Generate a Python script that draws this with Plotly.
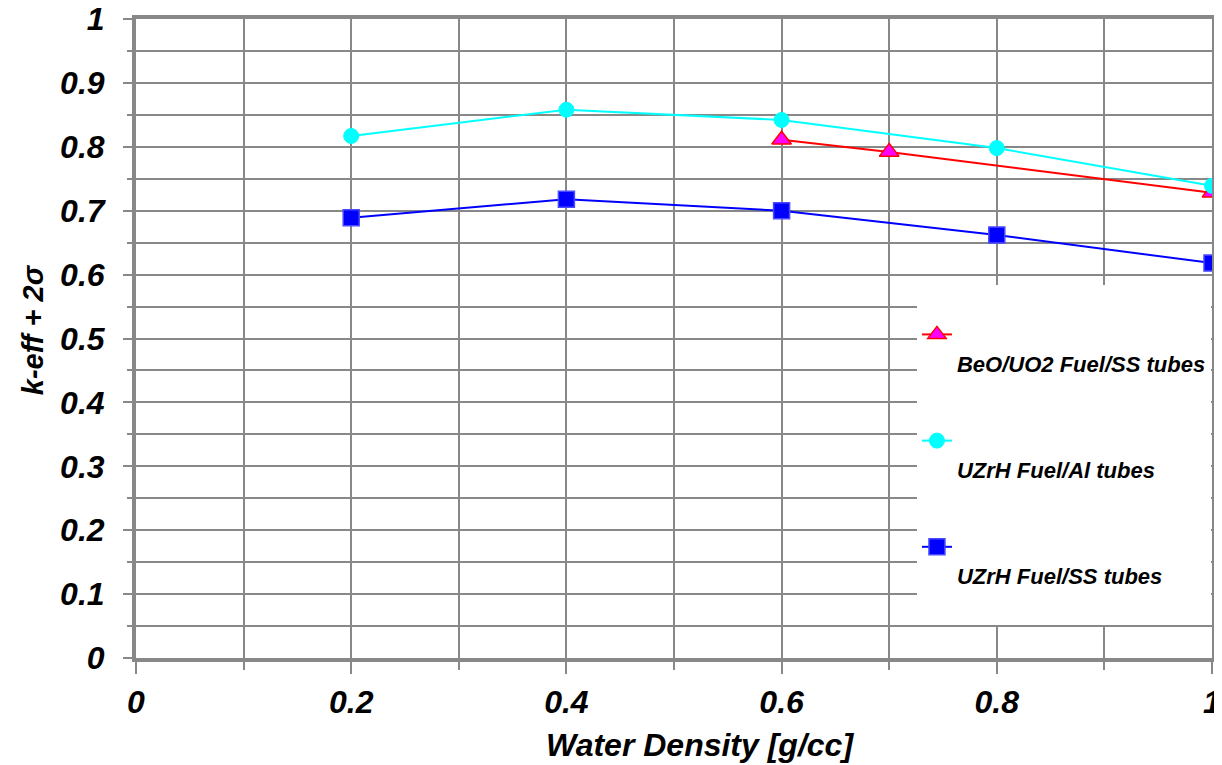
import plotly.graph_objects as go

# Data
beo_x = [0.6, 0.7, 1.0]
beo_y = [0.811, 0.792, 0.728]
al_x = [0.2, 0.4, 0.6, 0.8, 1.0]
al_y = [0.817, 0.858, 0.842, 0.798, 0.739]
ss_x = [0.2, 0.4, 0.6, 0.8, 1.0]
ss_y = [0.689, 0.718, 0.700, 0.662, 0.618]
names = ["BeO/UO2 Fuel/SS tubes", "UZrH Fuel/Al tubes", "UZrH Fuel/SS tubes"]
x_ticks = [0, 0.2, 0.4, 0.6, 0.8, 1.0]
x_tick_text = ["0", "0.2", "0.4", "0.6", "0.8", "1"]
y_ticks = [0, 0.1, 0.2, 0.3, 0.4, 0.5, 0.6, 0.7, 0.8, 0.9, 1.0]
y_tick_text = ["0", "0.1", "0.2", "0.3", "0.4", "0.5", "0.6", "0.7", "0.8", "0.9", "1"]

FONT = "Liberation Sans, Arial, sans-serif"
GRID = "#888888"

fig = go.Figure()
fig.add_trace(go.Scatter(
    x=beo_x, y=beo_y, mode="lines+markers", name="&nbsp;<br>" + names[0],
    legendgroup="a",
    line=dict(color="#FF0000", width=2),
    marker=dict(symbol="triangle-up", size=17, color="#FF00FF",
                line=dict(color="#FF0000", width=1.5)),
))
fig.add_trace(go.Scatter(
    x=al_x, y=al_y, mode="lines+markers", name="&nbsp;<br>" + names[1],
    legendgroup="b",
    line=dict(color="#00FFFF", width=2),
    marker=dict(symbol="circle", size=15, color="#00FFFF",
                line=dict(color="#00FFFF", width=1)),
))
fig.add_trace(go.Scatter(
    x=ss_x, y=ss_y, mode="lines+markers", name="&nbsp;<br>" + names[2] + "<br>&nbsp;",
    legendgroup="c",
    line=dict(color="#0000FF", width=2),
    marker=dict(symbol="square", size=16, color="#0000FF",
                line=dict(color="#4A4AFF", width=1.5)),
))

tick_font = dict(family=FONT, size=32, color="black", weight="bold", style="italic")
legend_font = dict(family=FONT, size=22, color="black", weight="bold", style="italic")

# The page body adds an 8px offset; the figure is sized so the plot area lands
# where the reference has it.
fig.update_layout(
    width=1214, height=757,
    margin=dict(l=128, r=10, t=11, b=107),
    paper_bgcolor="white", plot_bgcolor="white",
    showlegend=True,
    legend=dict(
        x=0.7258, y=0.5837, xanchor="left", yanchor="top",
        bgcolor="white", borderwidth=0,
        font=legend_font,
        title=dict(text="&nbsp;", font=legend_font),
        valign="top", tracegroupgap=46, traceorder="grouped",
        itemwidth=30,
    ),
    xaxis=dict(
        range=[0, 1], tickmode="array", tickvals=x_ticks, ticktext=x_tick_text,
        showgrid=True, gridcolor=GRID, gridwidth=2,
        showline=True, linecolor=GRID, linewidth=4, mirror=True,
        ticks="outside", ticklen=12, tickwidth=2, tickcolor=GRID,
        ticklabelstandoff=1, automargin=False, ticklabeloverflow="allow",
        tickfont=tick_font, zeroline=False,
        minor=dict(dtick=0.1, tick0=0, showgrid=True, gridcolor=GRID, gridwidth=2,
                   ticks="outside", ticklen=8, tickcolor=GRID, tickwidth=2),
    ),
    yaxis=dict(
        range=[0, 1], tickmode="array", tickvals=y_ticks, ticktext=y_tick_text,
        showgrid=True, gridcolor=GRID, gridwidth=2,
        showline=True, linecolor=GRID, linewidth=4, mirror=True,
        ticks="outside", ticklen=9, tickwidth=2, tickcolor=GRID,
        ticklabelstandoff=12, automargin=False, ticklabeloverflow="allow",
        tickfont=tick_font, zeroline=False,
        minor=dict(dtick=0.05, tick0=0, showgrid=True, gridcolor=GRID, gridwidth=2,
                   ticks="outside", ticklen=5, tickcolor=GRID, tickwidth=2),
    ),
    annotations=[
        dict(text="Water Density [g/cc]", xref="paper", yref="paper",
             x=0.524, y=-0.136, xanchor="center", yanchor="middle", showarrow=False,
             font=dict(family=FONT, size=32, color="black", weight="bold", style="italic")),
        dict(text="k-eff + 2σ", xref="paper", yref="paper", textangle=-90,
             x=-0.0957, y=0.513, xanchor="center", yanchor="middle", showarrow=False,
             font=dict(family=FONT, size=29, color="black", weight="bold", style="italic")),
    ],
)

fig.write_html("out.html")
